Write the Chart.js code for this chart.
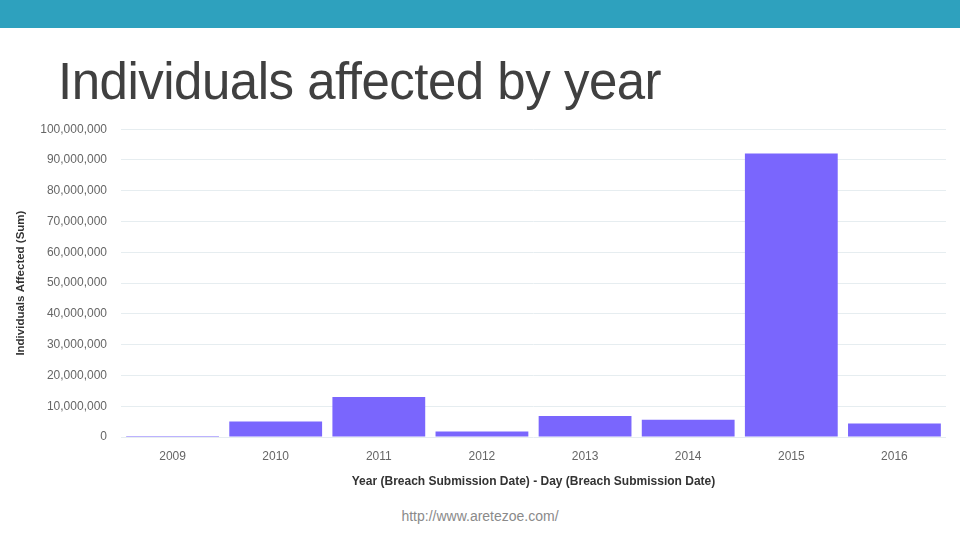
<!DOCTYPE html>
<html><head><meta charset="utf-8">
<script src="https://cdn.jsdelivr.net/npm/chart.js@4/dist/chart.umd.min.js"></script>
<style>
html,body{margin:0;padding:0;background:#fff;width:960px;height:540px;overflow:hidden;font-family:"Liberation Sans",Arial,sans-serif;}
#band{position:absolute;left:0;top:0;width:960px;height:28px;background:#2ea1be;}
#title{position:absolute;left:58px;top:52px;font-size:51px;color:#404040;white-space:nowrap;line-height:60px;letter-spacing:-0.5px;}
#wrap{position:absolute;left:0;top:108px;width:960px;height:385px;}
#foot{position:absolute;left:0;width:960px;top:508px;text-align:center;font-size:14px;color:#8a8a8a;}
</style></head><body>
<div id="band"></div>
<div id="title">Individuals affected by year</div>
<div id="wrap"><canvas id="c"></canvas></div>
<div id="foot">http://www.aretezoe.com/</div>
<script>
const years = ['2009','2010','2011','2012','2013','2014','2015','2016'];
const individualsAffected = [300000, 5000000, 13000000, 1800000, 6800000, 5600000, 92100000, 4400000];
const yTicks = [0,10000000,20000000,30000000,40000000,50000000,60000000,70000000,80000000,90000000,100000000];

new Chart(document.getElementById('c'), {
  type: 'bar',
  data: { labels: years, datasets: [{ data: individualsAffected, backgroundColor: '#7a66fd', barPercentage: 0.9, categoryPercentage: 1.0 }] },
  options: {
    responsive: true, maintainAspectRatio: false, animation: false,
    layout: { padding: { top: 10, right: 14, left: 10, bottom: 0 } },
    plugins: { legend: { display: false }, tooltip: { enabled: false } },
    scales: {
      x: {
        grid: { display: false, drawTicks: false }, border: { display: false },
        ticks: { color: '#666', font: { family: 'Liberation Sans', size: 12 }, padding: 12 },
        title: { display: true, text: 'Year (Breach Submission Date) - Day (Breach Submission Date)', color: '#333', font: { family: 'Liberation Sans', size: 12, weight: 'bold' }, padding: { top: 9 } },
        afterFit: s => { s.height = 56; }
      },
      y: {
        min: 0, max: 100000000,
        afterBuildTicks: s => { s.ticks = yTicks.map(v => ({ value: v })); },
        grid: { color: '#e6edf0', drawTicks: false }, border: { display: false },
        ticks: { color: '#666', font: { family: 'Liberation Sans', size: 12 }, padding: 14, callback: v => v.toLocaleString('en-US') },
        title: { display: true, text: 'Individuals Affected (Sum)', color: '#333', font: { family: 'Liberation Sans', size: 11.5, weight: 'bold' }, padding: { bottom: 8 } },
        afterFit: s => { s.width = 111; }
      }
    }
  }
});
</script>
</body></html>
